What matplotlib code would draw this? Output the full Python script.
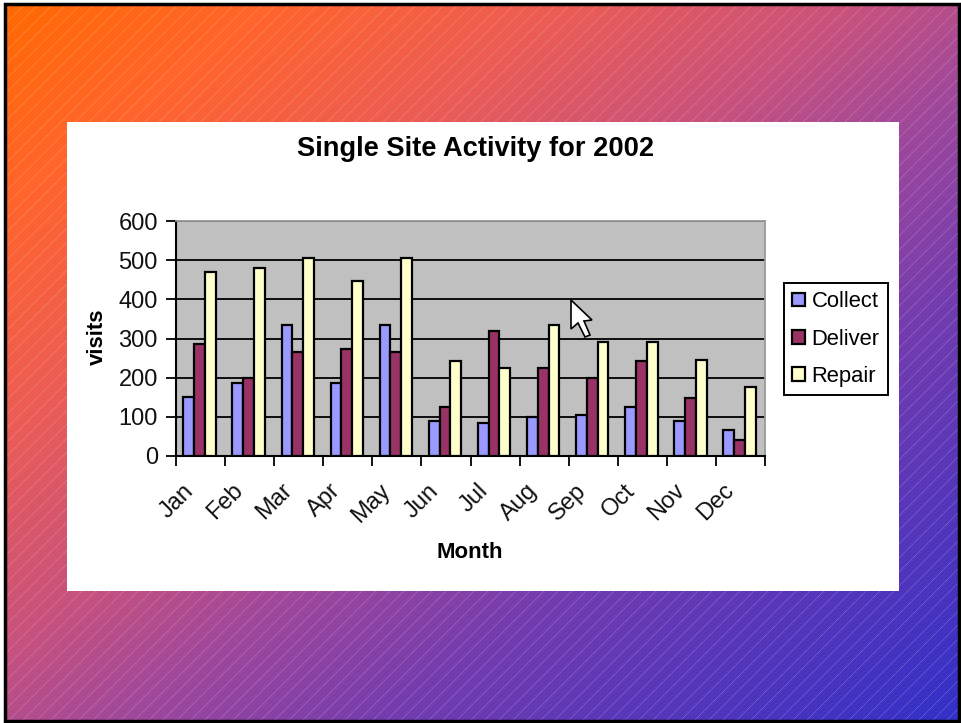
import numpy as np
import matplotlib
matplotlib.use("Agg")
import matplotlib.pyplot as plt
from matplotlib.patches import Rectangle, Polygon

plt.rcParams['font.family'] = ['Liberation Sans', 'DejaVu Sans']

months = ["Jan", "Feb", "Mar", "Apr", "May", "Jun", "Jul", "Aug", "Sep", "Oct", "Nov", "Dec"]
collect = [150, 187, 335, 187, 335, 90, 85, 100, 105, 125, 90, 67]
deliver = [285, 200, 265, 272, 265, 125, 318, 225, 200, 242, 147, 40]
repair = [470, 480, 505, 447, 505, 242, 225, 335, 290, 290, 245, 175]

W, H = 961, 723
fig = plt.figure(figsize=(W / 100, H / 100), dpi=100, facecolor="white")

# slide background, pixel coordinates
bg = fig.add_axes([0, 0, 1, 1])
bg.axis("off")

yy, xx = np.mgrid[0:H, 0:W]
t = (xx / W + yy / H) / 2
stops = [0, 0.15, 0.3, 0.45, 0.56, 0.7, 1]
reds = [255, 255, 235, 200, 160, 115, 50]
greens = [106, 100, 92, 82, 72, 60, 48]
blues = [0, 45, 85, 125, 155, 175, 200]
img = np.dstack([np.interp(t, stops, reds), np.interp(t, stops, greens), np.interp(t, stops, blues)]) / 255
stripes = ((xx + yy) % 14) < 1
img = np.where(stripes[..., None], img + (1 - img) * 0.2, img)
bg.imshow(img[4:720, 5:959], extent=(5, 959, 720, 4), aspect="auto", interpolation="nearest")
bg.set_xlim(0, W)
bg.set_ylim(H, 0)

bg.add_patch(Rectangle((4.5, 3.5), 954.5, 717, fill=False, ec="black", lw=2.5))
bg.add_patch(Rectangle((67, 122), 832, 469, fc="white", ec="none"))

ax = fig.add_axes([176 / W, 1 - 456 / H, (765 - 176) / W, (456 - 221) / H])
ax.set_facecolor("#c0c0c0")

x = np.arange(len(months)) - 0.02
w = 0.22
bar_style = dict(edgecolor="black", linewidth=1.6, zorder=3)
ax.bar(x - w, collect, w, color="#9999ff", label="Collect", **bar_style)
ax.bar(x, deliver, w, color="#993366", label="Deliver", **bar_style)
ax.bar(x + w, repair, w, color="#ffffcc", label="Repair", **bar_style)

ax.set_xlim(-0.5, 11.5)
ax.set_ylim(0, 600)
ax.set_yticks(range(0, 601, 100))
ax.yaxis.grid(True, color="black", lw=1.3, zorder=1)
ax.set_axisbelow(True)

ax.set_xticks(np.arange(13) - 0.5)
ax.set_xticklabels([])
for i, m in enumerate(months):
    ax.annotate(m, (i, 0), xycoords=("data", "axes fraction"), xytext=(-13, -17),
                textcoords="offset points", rotation=45, ha="right", va="top",
                rotation_mode="anchor", fontsize=17, color="#111111")
ax.tick_params(axis="both", length=7, width=1.3, color="black")
ax.tick_params(axis="y", labelsize=17, pad=6, labelcolor="#111111")

for s in ["top", "right"]:
    ax.spines[s].set_color("#999999")
    ax.spines[s].set_linewidth(1.3)
for s in ["left", "bottom"]:
    ax.spines[s].set_linewidth(1.5)

fig.text(476 / W, 1 - 149 / H, "Single Site Activity for 2002", fontsize=19.6,
         fontweight="bold", ha="center", va="center")
fig.text(470 / W, 1 - 552 / H, "Month", fontsize=16, fontweight="bold", ha="center", va="center")
fig.text(97 / W, 1 - 337 / H, "visits", fontsize=16, fontweight="bold", rotation=90,
         ha="center", va="center")

leg = ax.legend(loc="upper left", bbox_to_anchor=(784 / W, 1 - 283 / H),
                bbox_transform=fig.transFigure, fontsize=15.8, frameon=True, fancybox=False,
                framealpha=1, edgecolor="black", handlelength=0.58, handleheight=0.58,
                handletextpad=0.3, labelspacing=0.74, borderpad=0.38, borderaxespad=0)
leg.get_frame().set_linewidth(1.4)

# mouse pointer
over = fig.add_axes([0, 0, 1, 1], facecolor="none")
over.set_xlim(0, W)
over.set_ylim(H, 0)
over.axis("off")
over.add_patch(Polygon([(571, 300), (571, 329), (578, 323), (585, 337), (590, 335),
                        (584, 321), (592, 320)], closed=True, fc="white", ec="black", lw=1.2))

fig.savefig("out.png", dpi=100)
